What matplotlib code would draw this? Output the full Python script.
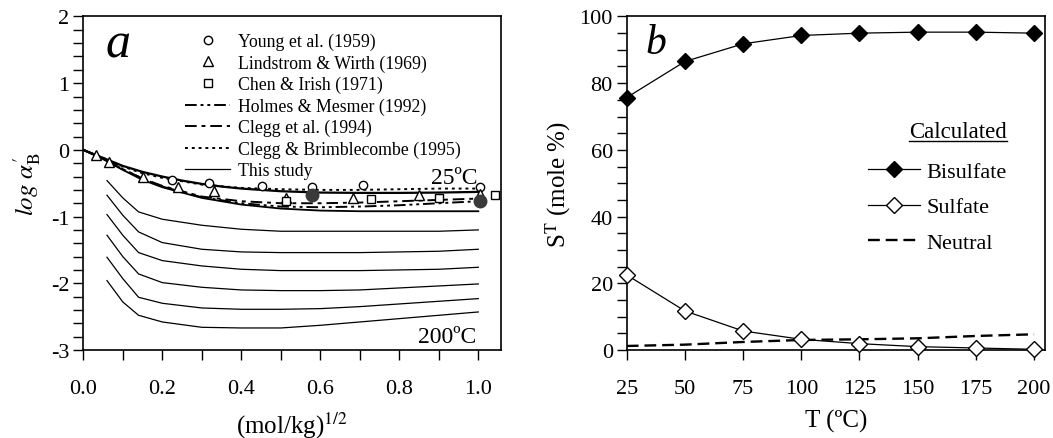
import numpy as np
import matplotlib
matplotlib.use("Agg")
import matplotlib.pyplot as plt
from matplotlib.lines import Line2D

plt.rcParams['font.family'] = ['Liberation Serif', 'DejaVu Serif']
plt.rcParams['mathtext.fontset'] = 'stix'

# ---------------- Panel a data ----------------
# This study, 25 and 50 C (start at origin)
x_25 = [0.0, 0.05, 0.10, 0.15, 0.20, 0.25, 0.30, 0.35, 0.40, 0.50, 0.60, 0.70, 0.80, 0.90, 1.00]
y_25 = [0.0, -0.12, -0.24, -0.33, -0.40, -0.46, -0.51, -0.55, -0.58, -0.62, -0.64, -0.645, -0.645, -0.64, -0.63]
x_50 = [0.0, 0.05, 0.10, 0.15, 0.20, 0.30, 0.40, 0.50, 0.60, 0.70, 0.80, 0.90, 1.00]
y_50 = [0.0, -0.14, -0.30, -0.45, -0.56, -0.72, -0.82, -0.88, -0.91, -0.92, -0.92, -0.92, -0.92]

# This study, 75-200 C (start at x ~ 0.06)
x_hot = [0.06, 0.10, 0.14, 0.20, 0.30, 0.40, 0.50, 0.60, 0.70, 0.80, 0.90, 1.00]
y_75  = [-0.46, -0.72, -0.93, -1.04, -1.13, -1.19, -1.22, -1.22, -1.22, -1.22, -1.22, -1.20]
y_100 = [-0.68, -0.98, -1.23, -1.39, -1.49, -1.53, -1.54, -1.54, -1.54, -1.53, -1.52, -1.49]
y_125 = [-0.97, -1.28, -1.54, -1.66, -1.74, -1.79, -1.81, -1.81, -1.81, -1.80, -1.79, -1.76]
y_150 = [-1.28, -1.60, -1.86, -1.99, -2.06, -2.10, -2.11, -2.11, -2.10, -2.07, -2.04, -2.01]
y_175 = [-1.61, -1.93, -2.21, -2.30, -2.37, -2.39, -2.39, -2.38, -2.35, -2.31, -2.27, -2.23]
y_200 = [-1.96, -2.28, -2.48, -2.58, -2.66, -2.67, -2.67, -2.63, -2.58, -2.53, -2.48, -2.43]

# Literature models (25 C)
x_lit = [0.0, 0.05, 0.10, 0.15, 0.20, 0.30, 0.40, 0.50, 0.60, 0.70, 0.80, 0.90, 1.00]
y_holmes = [0.0, -0.13, -0.29, -0.43, -0.55, -0.71, -0.80, -0.85, -0.86, -0.85, -0.83, -0.80, -0.77]
y_clegg94 = [0.0, -0.13, -0.29, -0.43, -0.54, -0.70, -0.77, -0.80, -0.80, -0.79, -0.77, -0.75, -0.73]
y_cb95 = [0.0, -0.12, -0.25, -0.35, -0.42, -0.52, -0.57, -0.59, -0.60, -0.60, -0.59, -0.58, -0.58]

# Experimental data
x_young = [0.224, 0.317, 0.453, 0.579, 0.707, 1.005]
y_young = [-0.45, -0.49, -0.54, -0.56, -0.53, -0.55]
x_lind = [0.031, 0.065, 0.150, 0.240, 0.330, 0.513, 0.683, 0.850, 1.005]
y_lind = [-0.07, -0.18, -0.40, -0.55, -0.62, -0.72, -0.72, -0.68, -0.66]
x_chen = [0.513, 0.729, 0.900, 1.043]
y_chen = [-0.76, -0.74, -0.72, -0.68]
x_filled = [0.579, 1.005]
y_filled = [-0.67, -0.76]

# ---------------- Panel b data ----------------
temps = [25, 50, 75, 100, 125, 150, 175, 200]
bisulfate = [75.7, 86.5, 91.8, 94.3, 95.0, 95.3, 95.3, 95.0]
sulfate = [22.5, 11.7, 5.7, 3.2, 1.9, 1.0, 0.6, 0.2]
neutral = [1.2, 1.6, 2.4, 3.0, 3.2, 3.5, 4.2, 4.7]

fig = plt.figure(figsize=(10.53, 4.39), dpi=100)
axa = fig.add_axes([0.0791, 0.2005, 0.3964, 0.7597])
axb = fig.add_axes([0.5952, 0.2005, 0.3972, 0.7597])

tick_fs = 16
for ax in (axa, axb):
    ax.tick_params(which='both', direction='out', length=7, width=1, labelsize=tick_fs)
    ax.tick_params(axis='x', which='both', pad=14)
    ax.tick_params(axis='y', which='both', pad=3)
    for sp in ax.spines.values():
        sp.set_linewidth(1.2)

# ---- panel a ----
lw = 0.9
axa.plot(x_25, y_25, color='black', lw=1.6, zorder=3)
axa.plot(x_50, y_50, color='black', lw=1.3, zorder=3)
for yy in (y_75, y_100, y_125, y_150, y_175, y_200):
    axa.plot(x_hot, yy, color='black', lw=lw)

axa.plot(x_lit, y_holmes, color='black', lw=1.4, dashes=(6, 2, 1.5, 2, 1.5, 2))
axa.plot(x_lit, y_clegg94, color='black', lw=1.4, dashes=(6, 2.5, 2, 2.5))
axa.plot(x_lit, y_cb95, color='black', lw=1.4, dashes=(1.5, 2))

ms = 6
axa.plot(x_young, y_young, 'o', mfc='white', mec='black', ms=ms, mew=1, zorder=4)
axa.plot(x_lind, y_lind, '^', mfc='white', mec='black', ms=ms + 1, mew=1, zorder=4)
axa.plot(x_chen, y_chen, 's', mfc='white', mec='black', ms=ms, mew=1, zorder=4, clip_on=False)
axa.plot(x_filled, y_filled, 'o', color='#3a3a3a', ms=9, zorder=5)

axa.set_xlim(0, 1.0567)
axa.set_ylim(-3, 2)
axa.set_xticks(np.arange(0, 1.01, 0.2))
axa.set_xticks(np.arange(0, 1.01, 0.1), minor=True)
axa.set_xticklabels([f"{v:.1f}" for v in np.arange(0, 1.01, 0.2)])
axa.set_yticks([-3, -2, -1, 0, 1, 2])
axa.set_yticks(np.arange(-3, 2.01, 0.2), minor=True)
axa.set_yticklabels(['-3', '-2', '-1', '0', '1', '2'])
axa.set_xlabel(r"(mol/kg)$^{1/2}$", fontsize=18, labelpad=8)
axa.set_ylabel(r"$\mathit{log}\ \alpha_{\mathrm{B}}^{\prime}$", fontsize=18, labelpad=6)

axa.text(0.055, 1.40, 'a', fontsize=36, style='italic', ha='left', va='baseline')
axa.text(0.997, -0.49, '25ºC', fontsize=17, ha='right', va='baseline')
axa.text(0.996, -2.876, '200ºC', fontsize=17, ha='right', va='baseline')

handles_a = [
    Line2D([], [], ls='none', marker='o', mfc='white', mec='black', ms=ms),
    Line2D([], [], ls='none', marker='^', mfc='white', mec='black', ms=ms + 1),
    Line2D([], [], ls='none', marker='s', mfc='white', mec='black', ms=ms),
    Line2D([], [], color='black', lw=1.4, dashes=(6, 2, 1.5, 2, 1.5, 2)),
    Line2D([], [], color='black', lw=1.4, dashes=(6, 2.5, 2, 2.5)),
    Line2D([], [], color='black', lw=1.4, dashes=(1.5, 2)),
    Line2D([], [], color='black', lw=0.9),
]
labels_a = ['Young et al. (1959)', 'Lindstrom & Wirth (1969)', 'Chen & Irish (1971)',
            'Holmes & Mesmer (1992)', 'Clegg et al. (1994)', 'Clegg & Brimblecombe (1995)',
            'This study']
axa.legend(handles_a, labels_a, loc='upper left', bbox_to_anchor=(0.2437, 0.951),
           frameon=False, fontsize=12.8, handlelength=2.55, handletextpad=0.45,
           labelspacing=0.24, borderpad=0, borderaxespad=0)

# ---- panel b ----
axb.plot(temps, bisulfate, color='black', lw=0.9, marker='D', mfc='black', mec='black', ms=8,
         label='Bisulfate', clip_on=False, zorder=4)
axb.plot(temps, sulfate, color='black', lw=0.9, marker='D', mfc='white', mec='black', ms=8,
         label='Sulfate', clip_on=False, zorder=4)
axb.plot(temps, neutral, color='black', lw=1.7, dashes=(5, 2.5), label='Neutral', zorder=3)
axb.set_xlim(25, 204.7)
axb.set_ylim(0, 100)
axb.set_xticks(temps)
axb.set_yticks(np.arange(0, 101, 20))
axb.set_yticks(np.arange(0, 101, 5), minor=True)
axb.set_xlabel("T (ºC)", fontsize=18, labelpad=8)
axb.set_ylabel(r"S$^{\mathrm{T}}$ (mole %)", fontsize=18, labelpad=5)
axb.text(32.9, 88.9, 'b', fontsize=30, style='italic', ha='left', va='baseline')

axb.legend(loc='upper left', bbox_to_anchor=(0.577, 0.566), frameon=False, fontsize=16,
           handlelength=2.34, handletextpad=0.3, labelspacing=0.68, borderpad=0, borderaxespad=0)

t = axb.text(0.6755, 0.639, 'Calculated', transform=axb.transAxes, fontsize=16.5,
             ha='left', va='baseline')
fig.canvas.draw()
bb = t.get_window_extent(renderer=fig.canvas.get_renderer())
inv = fig.transFigure.inverted()
(x0, y0), (x1, y1) = inv.transform([[bb.x0, bb.y0], [bb.x1, bb.y1]])
yline = inv.transform([[0, bb.y0 + 0.5]])[0][1]
fig.add_artist(Line2D([x0, x1], [yline, yline], color='black', lw=1.0, transform=fig.transFigure))

fig.savefig('out.png', dpi=100)
